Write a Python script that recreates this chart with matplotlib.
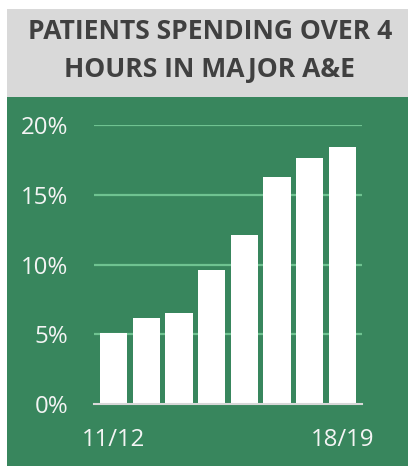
import matplotlib.pyplot as plt
from matplotlib.patches import Rectangle

years = ["11/12", "12/13", "13/14", "14/15", "15/16", "16/17", "17/18", "18/19"]
share = [5.1, 6.2, 6.5, 9.6, 12.1, 16.3, 17.6, 18.4]
y_ticks = [0, 5, 10, 15, 20]

GREEN = "#38865d"
GRID = "#6fc391"
TITLE_BG = "#d9d9d9"

W, H = 408, 466
fig = plt.figure(figsize=(W / 100, H / 100), dpi=100)
fig.patch.set_facecolor("white")

# header and chart panels, kept behind the axes
fig.patches.append(Rectangle((7 / W, 1 - 97 / H), 1, 88 / H, transform=fig.transFigure,
                             facecolor=TITLE_BG, edgecolor="none", zorder=-2))
fig.patches.append(Rectangle((7 / W, 0), 1, 1 - 97 / H, transform=fig.transFigure,
                             facecolor=GREEN, edgecolor="none", zorder=-2))

fig.text(210 / W, 1 - 51 / H, "PATIENTS SPENDING OVER 4\nHOURS IN MAJOR A&E",
         ha="center", va="center", fontsize=19.1, fontweight="bold",
         family="Open Sans", color="#404040", linespacing=1.62)

ax = fig.add_axes([94 / W, 1 - 404 / H, (362 - 94) / W, (404 - 125) / H])
ax.set_facecolor("none")
x = range(len(years))
ax.bar(x, share, width=0.84, color="white", zorder=3)
ax.set_xlim(-0.6, len(years) - 0.4)
ax.set_ylim(0, 20)

for t in y_ticks[1:]:
    ax.axhline(t, color=GRID, lw=1.6, zorder=1)

ax.set_yticks(y_ticks)
ax.set_yticklabels([f"{t}%" for t in y_ticks])
ax.set_xticks([0, len(years) - 1])
ax.set_xticklabels([years[0], years[-1]])
ax.tick_params(length=0, colors="white", labelsize=17.3)
ax.tick_params(axis="y", pad=18.5)
ax.tick_params(axis="x", pad=17)
for lab in ax.get_xticklabels() + ax.get_yticklabels():
    lab.set_family("Open Sans")
    lab.set_color("#f4f4f4")

for s in ["top", "right", "left"]:
    ax.spines[s].set_visible(False)
ax.spines["bottom"].set_color("#d8d8d8")
ax.spines["bottom"].set_linewidth(1.5)
ax.spines["bottom"].set_zorder(4)

fig.savefig("out.png", dpi=100, facecolor=fig.get_facecolor())
